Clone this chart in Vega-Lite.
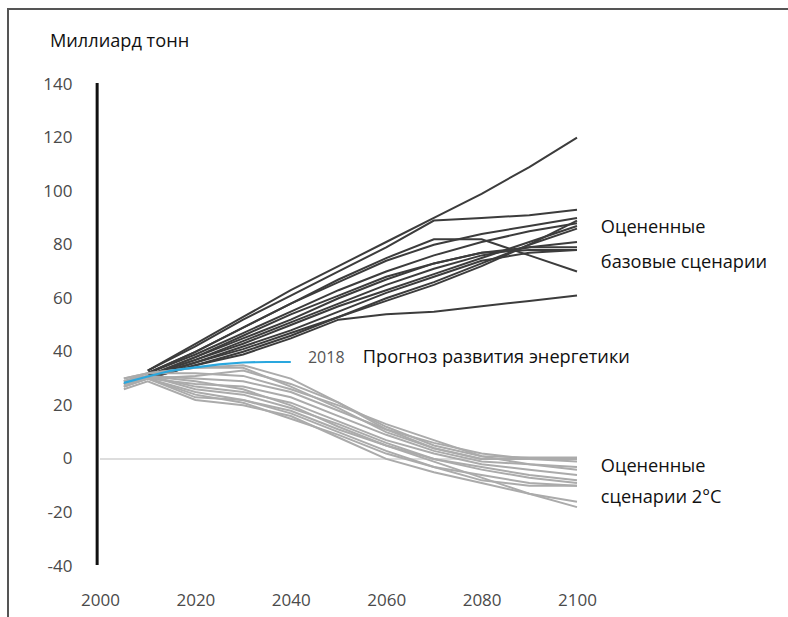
{
  "$schema": "https://vega.github.io/schema/vega-lite/v6.json",
  "autosize": "none",
  "padding": {"left": 8, "top": 9, "right": 0, "bottom": 0},
  "width": 800,
  "height": 620,
  "config": {"view": {"stroke": "#555555", "strokeWidth": 2}},
  "datasets": {
    "dark": [
      {"s":"D1","x":2010,"y":33},{"s":"D1","x":2020,"y":43},{"s":"D1","x":2030,"y":53},{"s":"D1","x":2040,"y":63},{"s":"D1","x":2050,"y":72},{"s":"D1","x":2060,"y":81},{"s":"D1","x":2070,"y":90},{"s":"D1","x":2080,"y":99},{"s":"D1","x":2090,"y":109},{"s":"D1","x":2100,"y":120},
      {"s":"D2","x":2010,"y":33},{"s":"D2","x":2020,"y":42},{"s":"D2","x":2030,"y":52},{"s":"D2","x":2040,"y":61},{"s":"D2","x":2050,"y":70},{"s":"D2","x":2060,"y":79},{"s":"D2","x":2070,"y":89},{"s":"D2","x":2080,"y":90},{"s":"D2","x":2090,"y":91},{"s":"D2","x":2100,"y":93},
      {"s":"D3","x":2010,"y":32},{"s":"D3","x":2020,"y":40},{"s":"D3","x":2030,"y":49},{"s":"D3","x":2040,"y":58},{"s":"D3","x":2050,"y":66},{"s":"D3","x":2060,"y":74},{"s":"D3","x":2070,"y":80},{"s":"D3","x":2080,"y":84},{"s":"D3","x":2090,"y":87},{"s":"D3","x":2100,"y":90},
      {"s":"D4","x":2010,"y":32},{"s":"D4","x":2020,"y":39},{"s":"D4","x":2030,"y":47},{"s":"D4","x":2040,"y":55},{"s":"D4","x":2050,"y":63},{"s":"D4","x":2060,"y":70},{"s":"D4","x":2070,"y":76},{"s":"D4","x":2080,"y":81},{"s":"D4","x":2090,"y":85},{"s":"D4","x":2100,"y":88},
      {"s":"D5","x":2010,"y":32},{"s":"D5","x":2020,"y":40},{"s":"D5","x":2030,"y":49},{"s":"D5","x":2040,"y":58},{"s":"D5","x":2050,"y":67},{"s":"D5","x":2060,"y":75},{"s":"D5","x":2070,"y":82},{"s":"D5","x":2080,"y":82},{"s":"D5","x":2090,"y":76},{"s":"D5","x":2100,"y":70},
      {"s":"D6","x":2010,"y":31},{"s":"D6","x":2020,"y":38},{"s":"D6","x":2030,"y":45},{"s":"D6","x":2040,"y":52},{"s":"D6","x":2050,"y":60},{"s":"D6","x":2060,"y":67},{"s":"D6","x":2070,"y":73},{"s":"D6","x":2080,"y":77},{"s":"D6","x":2090,"y":78},{"s":"D6","x":2100,"y":78},
      {"s":"D7","x":2010,"y":31},{"s":"D7","x":2020,"y":37},{"s":"D7","x":2030,"y":44},{"s":"D7","x":2040,"y":51},{"s":"D7","x":2050,"y":58},{"s":"D7","x":2060,"y":65},{"s":"D7","x":2070,"y":71},{"s":"D7","x":2080,"y":76},{"s":"D7","x":2090,"y":79},{"s":"D7","x":2100,"y":81},
      {"s":"D8","x":2010,"y":31},{"s":"D8","x":2020,"y":37},{"s":"D8","x":2030,"y":43},{"s":"D8","x":2040,"y":50},{"s":"D8","x":2050,"y":57},{"s":"D8","x":2060,"y":63},{"s":"D8","x":2070,"y":69},{"s":"D8","x":2080,"y":75},{"s":"D8","x":2090,"y":81},{"s":"D8","x":2100,"y":87},
      {"s":"D9","x":2010,"y":31},{"s":"D9","x":2020,"y":36},{"s":"D9","x":2030,"y":42},{"s":"D9","x":2040,"y":48},{"s":"D9","x":2050,"y":55},{"s":"D9","x":2060,"y":62},{"s":"D9","x":2070,"y":68},{"s":"D9","x":2080,"y":74},{"s":"D9","x":2090,"y":77},{"s":"D9","x":2100,"y":78},
      {"s":"D10","x":2010,"y":30},{"s":"D10","x":2020,"y":35},{"s":"D10","x":2030,"y":40},{"s":"D10","x":2040,"y":46},{"s":"D10","x":2050,"y":53},{"s":"D10","x":2060,"y":60},{"s":"D10","x":2070,"y":66},{"s":"D10","x":2080,"y":73},{"s":"D10","x":2090,"y":80},{"s":"D10","x":2100,"y":86},
      {"s":"D11","x":2010,"y":30},{"s":"D11","x":2020,"y":35},{"s":"D11","x":2030,"y":39},{"s":"D11","x":2040,"y":45},{"s":"D11","x":2050,"y":52},{"s":"D11","x":2060,"y":54},{"s":"D11","x":2070,"y":55},{"s":"D11","x":2080,"y":57},{"s":"D11","x":2090,"y":59},{"s":"D11","x":2100,"y":61},
      {"s":"D12","x":2010,"y":31},{"s":"D12","x":2020,"y":38},{"s":"D12","x":2030,"y":46},{"s":"D12","x":2040,"y":54},{"s":"D12","x":2050,"y":61},{"s":"D12","x":2060,"y":68},{"s":"D12","x":2070,"y":73},{"s":"D12","x":2080,"y":77},{"s":"D12","x":2090,"y":79},{"s":"D12","x":2100,"y":79},
      {"s":"D13","x":2010,"y":30},{"s":"D13","x":2020,"y":36},{"s":"D13","x":2030,"y":41},{"s":"D13","x":2040,"y":47},{"s":"D13","x":2050,"y":53},{"s":"D13","x":2060,"y":59},{"s":"D13","x":2070,"y":65},{"s":"D13","x":2080,"y":72},{"s":"D13","x":2090,"y":80},{"s":"D13","x":2100,"y":89}
    ],
    "gray": [
      {"s":"G1","x":2005,"y":30},{"s":"G1","x":2010,"y":32},{"s":"G1","x":2020,"y":34},{"s":"G1","x":2030,"y":35},{"s":"G1","x":2040,"y":30},{"s":"G1","x":2050,"y":21},{"s":"G1","x":2060,"y":12},{"s":"G1","x":2070,"y":5},{"s":"G1","x":2080,"y":1},{"s":"G1","x":2090,"y":0.5},{"s":"G1","x":2100,"y":0.5},
      {"s":"G2","x":2005,"y":29},{"s":"G2","x":2010,"y":32},{"s":"G2","x":2020,"y":34},{"s":"G2","x":2030,"y":34},{"s":"G2","x":2040,"y":27},{"s":"G2","x":2050,"y":19},{"s":"G2","x":2060,"y":10},{"s":"G2","x":2070,"y":4},{"s":"G2","x":2080,"y":0},{"s":"G2","x":2090,"y":0},{"s":"G2","x":2100,"y":0},
      {"s":"G3","x":2005,"y":28},{"s":"G3","x":2010,"y":31},{"s":"G3","x":2020,"y":30},{"s":"G3","x":2030,"y":29},{"s":"G3","x":2040,"y":25},{"s":"G3","x":2050,"y":18},{"s":"G3","x":2060,"y":11},{"s":"G3","x":2070,"y":6},{"s":"G3","x":2080,"y":2},{"s":"G3","x":2090,"y":0},{"s":"G3","x":2100,"y":-1},
      {"s":"G4","x":2005,"y":27},{"s":"G4","x":2010,"y":30},{"s":"G4","x":2020,"y":28},{"s":"G4","x":2030,"y":27},{"s":"G4","x":2040,"y":23},{"s":"G4","x":2050,"y":16},{"s":"G4","x":2060,"y":9},{"s":"G4","x":2070,"y":3},{"s":"G4","x":2080,"y":-1},{"s":"G4","x":2090,"y":-2},{"s":"G4","x":2100,"y":-4},
      {"s":"G5","x":2005,"y":29},{"s":"G5","x":2010,"y":31},{"s":"G5","x":2020,"y":27},{"s":"G5","x":2030,"y":25},{"s":"G5","x":2040,"y":21},{"s":"G5","x":2050,"y":14},{"s":"G5","x":2060,"y":7},{"s":"G5","x":2070,"y":2},{"s":"G5","x":2080,"y":-2},{"s":"G5","x":2090,"y":-4},{"s":"G5","x":2100,"y":-6},
      {"s":"G6","x":2005,"y":28},{"s":"G6","x":2010,"y":30},{"s":"G6","x":2020,"y":25},{"s":"G6","x":2030,"y":22},{"s":"G6","x":2040,"y":18},{"s":"G6","x":2050,"y":11},{"s":"G6","x":2060,"y":5},{"s":"G6","x":2070,"y":0},{"s":"G6","x":2080,"y":-3},{"s":"G6","x":2090,"y":-6},{"s":"G6","x":2100,"y":-8},
      {"s":"G7","x":2005,"y":27},{"s":"G7","x":2010,"y":30},{"s":"G7","x":2020,"y":23},{"s":"G7","x":2030,"y":22},{"s":"G7","x":2040,"y":17},{"s":"G7","x":2050,"y":10},{"s":"G7","x":2060,"y":3},{"s":"G7","x":2070,"y":-3},{"s":"G7","x":2080,"y":-6},{"s":"G7","x":2090,"y":-9},{"s":"G7","x":2100,"y":-10},
      {"s":"G8","x":2005,"y":26},{"s":"G8","x":2010,"y":29},{"s":"G8","x":2020,"y":22},{"s":"G8","x":2030,"y":20},{"s":"G8","x":2040,"y":16},{"s":"G8","x":2050,"y":8},{"s":"G8","x":2060,"y":0},{"s":"G8","x":2070,"y":-5},{"s":"G8","x":2080,"y":-9},{"s":"G8","x":2090,"y":-13},{"s":"G8","x":2100,"y":-16},
      {"s":"G9","x":2005,"y":28},{"s":"G9","x":2010,"y":31},{"s":"G9","x":2020,"y":29},{"s":"G9","x":2030,"y":26},{"s":"G9","x":2040,"y":20},{"s":"G9","x":2050,"y":12},{"s":"G9","x":2060,"y":5},{"s":"G9","x":2070,"y":-1},{"s":"G9","x":2080,"y":-7},{"s":"G9","x":2090,"y":-13},{"s":"G9","x":2100,"y":-18},
      {"s":"G10","x":2005,"y":30},{"s":"G10","x":2010,"y":32},{"s":"G10","x":2020,"y":32},{"s":"G10","x":2030,"y":31},{"s":"G10","x":2040,"y":26},{"s":"G10","x":2050,"y":20},{"s":"G10","x":2060,"y":13},{"s":"G10","x":2070,"y":7},{"s":"G10","x":2080,"y":1},{"s":"G10","x":2090,"y":-2},{"s":"G10","x":2100,"y":-3},
      {"s":"G11","x":2005,"y":29},{"s":"G11","x":2010,"y":31},{"s":"G11","x":2020,"y":26},{"s":"G11","x":2030,"y":24},{"s":"G11","x":2040,"y":19},{"s":"G11","x":2050,"y":13},{"s":"G11","x":2060,"y":6},{"s":"G11","x":2070,"y":0},{"s":"G11","x":2080,"y":-4},{"s":"G11","x":2090,"y":-7},{"s":"G11","x":2100,"y":-9},
      {"s":"G12","x":2005,"y":27},{"s":"G12","x":2010,"y":30},{"s":"G12","x":2020,"y":24},{"s":"G12","x":2030,"y":21},{"s":"G12","x":2040,"y":15},{"s":"G12","x":2050,"y":9},{"s":"G12","x":2060,"y":2},{"s":"G12","x":2070,"y":-3},{"s":"G12","x":2080,"y":-8},{"s":"G12","x":2090,"y":-10},{"s":"G12","x":2100,"y":-10},
      {"s":"G13","x":2005,"y":28},{"s":"G13","x":2010,"y":30},{"s":"G13","x":2020,"y":31},{"s":"G13","x":2030,"y":33},{"s":"G13","x":2040,"y":28},{"s":"G13","x":2050,"y":21},{"s":"G13","x":2060,"y":11},{"s":"G13","x":2070,"y":4},{"s":"G13","x":2080,"y":0},{"s":"G13","x":2090,"y":0},{"s":"G13","x":2100,"y":0}
    ],
    "blue": [
      {"x":2005,"y":28.4},{"x":2010,"y":30.8},{"x":2015,"y":33},{"x":2020,"y":34.2},{"x":2025,"y":35.3},{"x":2030,"y":36},{"x":2035,"y":36.2},{"x":2040,"y":36.2}
    ],
    "labels": [
      {"t":"Миллиард тонн","x":1989.5,"y":155.7},
      {"t":"Прогноз развития энергетики","x":2055.1,"y":37.7},
      {"t":"Оцененные","x":2105,"y":86.2},
      {"t":"базовые сценарии","x":2105,"y":73.2},
      {"t":"Оцененные","x":2105,"y":-3},
      {"t":"сценарии 2°C","x":2105,"y":-14.6}
    ]
  },
  "encoding": {
    "x": {"field": "x", "type": "quantitative", "scale": {"domain": [1980.713, 2148.428], "nice": false, "zero": false},
      "axis": {"orient": "bottom", "offset": -37, "values": [2000, 2020, 2040, 2060, 2080, 2100], "format": "d", "domain": false, "ticks": false, "tickSize": 0, "grid": false, "labelPadding": 0, "labelFont": "Open Sans", "labelFontSize": 17, "labelColor": "#4a4a4a", "title": null}},
    "y": {"field": "y", "type": "quantitative", "scale": {"domain": [-63.51, 168.006], "nice": false, "zero": false},
      "axis": {"orient": "left", "offset": -64, "values": [-40, -20, 0, 20, 40, 60, 80, 100, 120, 140], "labelExpr": "'' + datum.value", "domain": false, "ticks": false, "tickSize": 0, "grid": false, "labelPadding": 0, "labelFont": "Open Sans", "labelFontSize": 17, "labelColor": "#4a4a4a", "title": null}}
  },
  "layer": [
    {"data": {"values": [{"x": 2000, "x2": 2100, "y": 0}]}, "mark": {"type": "rule", "color": "#dddddd", "strokeWidth": 2}, "encoding": {"x2": {"field": "x2"}}},
    {"data": {"values": [{"x": 1999.4, "y": 140.4, "y2": -39.6}]}, "mark": {"type": "rule", "color": "#111111", "strokeWidth": 3}, "encoding": {"y2": {"field": "y2"}}},
    {"data": {"name": "dark"}, "mark": {"type": "line", "color": "#3c3c3c", "strokeWidth": 2}, "encoding": {"detail": {"field": "s"}}},
    {"data": {"name": "gray"}, "mark": {"type": "line", "color": "#ababab", "strokeWidth": 2}, "encoding": {"detail": {"field": "s"}}},
    {"data": {"name": "blue"}, "mark": {"type": "line", "color": "#2aa7de", "strokeWidth": 2.2}},
    {"data": {"values": [{"t": "2018", "x": 2043.6, "y": 37.7}]}, "mark": {"type": "text", "align": "left", "baseline": "middle", "font": "Open Sans", "fontSize": 16, "color": "#555555"}, "encoding": {"text": {"field": "t"}}},
    {"data": {"name": "labels"}, "mark": {"type": "text", "align": "left", "baseline": "middle", "font": "Open Sans", "fontSize": 18.2, "color": "#111111"}, "encoding": {"text": {"field": "t"}}}
  ]
}
